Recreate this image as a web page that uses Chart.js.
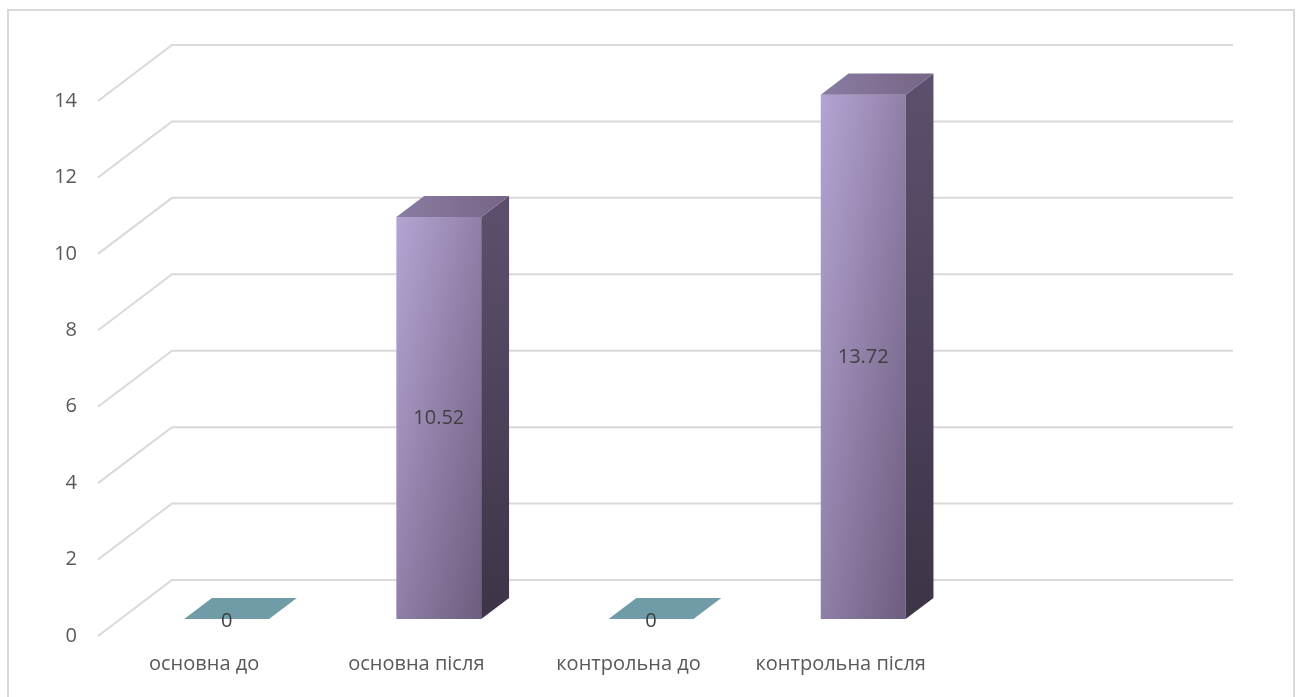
<!DOCTYPE html>
<html>
<head>
<meta charset="utf-8">
<script src="https://cdn.jsdelivr.net/npm/chart.js@4.4.1/dist/chart.umd.min.js"></script>
<style>
  html, body { margin: 0; padding: 0; background: #fff; }
  #frame { position: absolute; left: 7px; top: 9px; width: 1284px; height: 700px; border: 2px solid #d9d9d9; }
  #chart { position: absolute; left: 0; top: 0; }
</style>
</head>
<body>
<div id="frame"></div>
<canvas id="chart" width="1298" height="697"></canvas>
<script>
const categories = ['основна до', 'основна після', 'контрольна до', 'контрольна після', ''];
const values = [0, 10.52, 0, 13.72, null];
const yMax = 14;
const yStep = 2;

// 3D look: offset from the front plane to the back wall, and where the bars sit in that depth
const DEPTH_X = 74, DEPTH_Y = -56;
const BAR_FRONT = 0.304, BAR_BACK = 0.68;

const GRID_COLOR = '#d9d9d9';
const TEXT_COLOR = '#595959';
const LABEL_COLOR = '#404040';
const FONT = { family: 'Open Sans', size: 20 };

function frontGradient(ctx, left, top, w, h) {
    // isolines run along the anti-diagonal so both width and height shade evenly
    const k = 2 / (1 / (w * w) + 1 / (h * h));
    const g = ctx.createLinearGradient(left, top, left + k / w, top + k / h);
    g.addColorStop(0, '#b4a4d3');
    g.addColorStop(1, '#6c5c7d');
    return g;
}

const depthGrid = {
    id: 'depthGrid',
    beforeDatasetsDraw(chart) {
        const { ctx, chartArea: a, scales: { y } } = chart;
        ctx.save();
        ctx.strokeStyle = GRID_COLOR;
        ctx.lineWidth = 2;
        for (let v = 0; v <= yMax; v += yStep) {
            const py = y.getPixelForValue(v);
            ctx.beginPath();
            ctx.moveTo(a.left, py);
            ctx.lineTo(a.left + DEPTH_X, py + DEPTH_Y);
            ctx.lineTo(a.right + DEPTH_X, py + DEPTH_Y);
            ctx.stroke();
        }
        ctx.restore();

        // shaded fronts, built from each bar's final geometry
        chart.getDatasetMeta(0).data.forEach(el => {
            const { x, y: top, base, width } = el.getProps(['x', 'y', 'base', 'width'], true);
            if (!isFinite(top) || base - top < 1) return;
            el.options.backgroundColor = frontGradient(ctx, x - width / 2, top, width, base - top);
        });

        // push the bar fronts back into the box
        ctx.save();
        ctx.translate(DEPTH_X * BAR_FRONT, DEPTH_Y * BAR_FRONT);
    },
    afterDatasetsDraw(chart) {
        const { ctx } = chart;
        ctx.restore();

        const fx = DEPTH_X * BAR_FRONT, fy = DEPTH_Y * BAR_FRONT;
        const bx = DEPTH_X * (BAR_BACK - BAR_FRONT), by = DEPTH_Y * (BAR_BACK - BAR_FRONT);
        const meta = chart.getDatasetMeta(0);

        meta.data.forEach((el, i) => {
            const v = values[i];
            if (v === null || v === undefined) return;
            const { x, y, base, width } = el.getProps(['x', 'y', 'base', 'width'], true);
            const left = x - width / 2 + fx, right = x + width / 2 + fx;
            const top = y + fy, bottom = base + fy;

            ctx.save();
            if (v > 0) {
                // right side
                const sg = ctx.createLinearGradient(0, top + by, 0, bottom);
                sg.addColorStop(0, '#5d506e');
                sg.addColorStop(1, '#3d3447');
                ctx.fillStyle = sg;
                ctx.beginPath();
                ctx.moveTo(right, top);
                ctx.lineTo(right + bx, top + by);
                ctx.lineTo(right + bx, bottom + by);
                ctx.lineTo(right, bottom);
                ctx.closePath();
                ctx.fill();

                // top
                const tg = ctx.createLinearGradient(left, 0, right + bx, 0);
                tg.addColorStop(0, '#8a7ba1');
                tg.addColorStop(1, '#756687');
                ctx.fillStyle = tg;
            } else {
                ctx.fillStyle = '#6f9ca7';
            }
            ctx.beginPath();
            ctx.moveTo(left, top);
            ctx.lineTo(right, top);
            ctx.lineTo(right + bx, top + by);
            ctx.lineTo(left + bx, top + by);
            ctx.closePath();
            ctx.fill();

            // value label in the middle of the front face
            ctx.fillStyle = LABEL_COLOR;
            ctx.font = `${FONT.size}px "${FONT.family}"`;
            ctx.textAlign = 'center';
            ctx.textBaseline = 'middle';
            ctx.fillText(String(v), x + fx, (top + bottom) / 2 + (v > 0 ? 0 : 2));
            ctx.restore();
        });
    }
};

new Chart(document.getElementById('chart'), {
    type: 'bar',
    data: {
        labels: categories,
        datasets: [{
            data: values,
            // scriptable so every bar keeps its own options object
            backgroundColor: () => '#a898c4',
            borderWidth: 0,
            categoryPercentage: 1,
            barPercentage: 0.4
        }]
    },
    options: {
        responsive: false,
        animation: false,
        layout: { padding: { left: 0, top: 101, right: 139, bottom: 0 } },
        plugins: {
            legend: { display: false },
            tooltip: { enabled: false }
        },
        scales: {
            x: {
                offset: true,
                grid: { display: false, drawTicks: false },
                border: { display: false },
                ticks: { color: TEXT_COLOR, font: FONT, padding: 16, maxRotation: 0, autoSkip: false },
                afterFit: s => { s.height = 61; }
            },
            y: {
                min: 0,
                max: yMax,
                grid: { display: false, drawTicks: false },
                border: { display: false },
                ticks: { stepSize: yStep, color: TEXT_COLOR, font: FONT, padding: 21 },
                afterFit: s => { s.width = 98; }
            }
        }
    },
    plugins: [depthGrid]
});
</script>
</body>
</html>
